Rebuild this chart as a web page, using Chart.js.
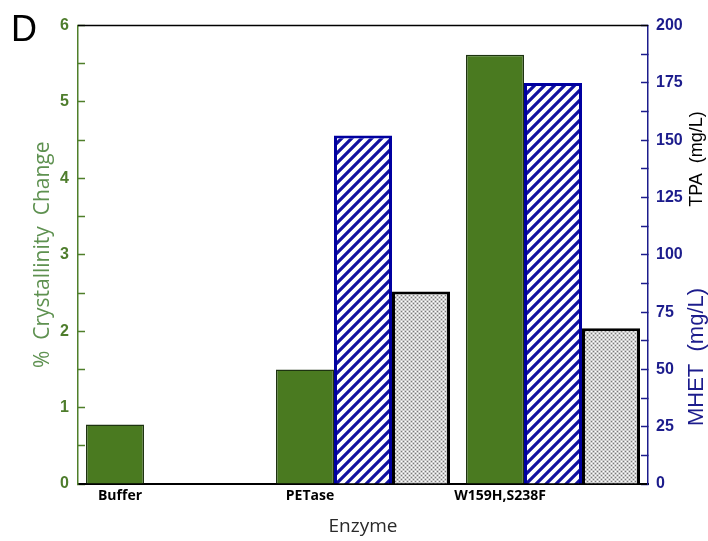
<!DOCTYPE html>
<html>
<head>
<meta charset="utf-8">
<script src="https://cdn.jsdelivr.net/npm/chart.js@4.4.1/dist/chart.umd.min.js"></script>
<style>
  html, body { margin: 0; padding: 0; background: #fff; }
</style>
</head>
<body>
<canvas id="c" width="708" height="541"></canvas>
<script>
// data
var enzymes = ['Buffer', 'PETase', 'W159H,S238F'];
var crystallinity = [0.78, 1.5, 5.62];   // % crystallinity change (left axis)
var tpa = [null, 152, 175];              // TPA mg/L (right axis)
var mhet = [null, 84, 68];               // MHET mg/L (right axis)

var green = '#4a7a20';
var axisGreen = '#4f7f2a';
var navy = '#1c1c8c';

function stripePattern() {
  var c = document.createElement('canvas');
  c.width = 10; c.height = 10;
  var g = c.getContext('2d');
  g.fillStyle = '#fff';
  g.fillRect(0, 0, 10, 10);
  g.strokeStyle = '#1010a0';
  g.lineWidth = 3.2;
  g.beginPath();
  g.moveTo(-5, 5); g.lineTo(5, -5);
  g.moveTo(0, 10); g.lineTo(10, 0);
  g.moveTo(5, 15); g.lineTo(15, 5);
  g.stroke();
  return g.createPattern(c, 'repeat');
}

function checkPattern() {
  var c = document.createElement('canvas');
  c.width = 4; c.height = 4;
  var g = c.getContext('2d');
  g.fillStyle = '#cfcfcf';
  g.fillRect(0, 0, 4, 4);
  g.fillStyle = '#ffffff';
  g.fillRect(1, 1, 1, 1); g.fillRect(3, 3, 1, 1);
  g.fillStyle = '#7a7a7a';
  g.fillRect(1, 3, 1, 1); g.fillRect(3, 1, 1, 1);
  return g.createPattern(c, 'repeat');
}

var extras = {
  id: 'extras',
  afterDraw: function (chart) {
    var ctx = chart.ctx, a = chart.chartArea;
    ctx.save();
    // top frame line
    ctx.strokeStyle = '#000';
    ctx.lineWidth = 1.5;
    ctx.beginPath();
    ctx.moveTo(a.left, a.top);
    ctx.lineTo(a.right, a.top);
    ctx.stroke();
    // panel letter
    ctx.fillStyle = '#000';
    ctx.font = '36px "Liberation Sans"';
    ctx.textBaseline = 'alphabetic';
    ctx.fillText('D', 11, 41);
    // right axis titles, reading bottom to top
    ctx.textAlign = 'center';
    ctx.textBaseline = 'middle';
    ctx.save();
    ctx.translate(697, 159);
    ctx.rotate(-Math.PI / 2);
    ctx.font = '18px "Liberation Sans"';
    ctx.fillText('TPA  (mg/L)', 0, 0);
    ctx.restore();
    ctx.save();
    ctx.translate(697, 357);
    ctx.rotate(-Math.PI / 2);
    ctx.fillStyle = navy;
    ctx.font = '22px "Liberation Sans"';
    ctx.fillText('MHET  (mg/L)', 0, 0);
    ctx.restore();
    ctx.restore();
  }
};

new Chart(document.getElementById('c'), {
  type: 'bar',
  data: {
    labels: enzymes,
    datasets: [
      {
        label: '% Crystallinity Change',
        data: crystallinity,
        yAxisID: 'y',
        backgroundColor: green,
        borderColor: '#1d3310',
        borderWidth: 1.5
      },
      {
        label: 'TPA',
        data: tpa,
        yAxisID: 'y2',
        backgroundColor: stripePattern(),
        borderColor: '#0000a0',
        borderWidth: 3
      },
      {
        label: 'MHET',
        data: mhet,
        yAxisID: 'y2',
        backgroundColor: checkPattern(),
        borderColor: '#000',
        borderWidth: 3
      }
    ]
  },
  options: {
    responsive: false,
    animation: false,
    layout: { padding: { top: 21, left: 0, right: 0, bottom: 0 } },
    datasets: { bar: { categoryPercentage: 0.916, barPercentage: 1.0 } },
    plugins: {
      legend: { display: false },
      tooltip: { enabled: false }
    },
    scales: {
      x: {
        grid: { display: false, drawTicks: false },
        border: { display: true, color: '#000', width: 2 },
        ticks: {
          color: '#000',
          padding: 4,
          labelOffset: -53,
          font: { family: 'Open Sans', size: 14, weight: 'bold' }
        },
        title: {
          display: true,
          text: 'Enzyme',
          color: '#2a2a2a',
          font: { family: 'Open Sans', size: 19 },
          padding: { top: 0, bottom: 3 }
        },
        afterFit: function (s) { s.height = 57; }
      },
      y: {
        position: 'left',
        min: 0,
        max: 6,
        ticks: {
          stepSize: 0.5,
          callback: function (v) { return v % 1 === 0 ? v : ''; },
          color: '#4e7d2c',
          padding: 16,
          font: { family: 'Liberation Sans', size: 16, weight: 'bold' }
        },
        grid: { drawOnChartArea: false, tickLength: -7, color: axisGreen, tickWidth: 1.5 },
        border: { color: axisGreen, width: 1.5 },
        title: {
          display: true,
          text: '%  Crystallinity  Change',
          color: '#5e9150',
          font: { family: 'Open Sans', size: 21 },
          padding: { top: 30, bottom: 0 }
        },
        afterFit: function (s) { s.width = 78; }
      },
      y2: {
        position: 'right',
        min: 0,
        max: 200,
        ticks: {
          stepSize: 12.5,
          callback: function (v) { return v % 25 === 0 ? v : ''; },
          color: navy,
          padding: 15,
          font: { family: 'Liberation Sans', size: 16, weight: 'bold' }
        },
        grid: { drawOnChartArea: false, tickLength: -7, color: navy, tickWidth: 1.5 },
        border: { color: navy, width: 1.5 },
        afterFit: function (s) { s.width = 60; }
      }
    }
  },
  plugins: [extras]
});
</script>
</body>
</html>
